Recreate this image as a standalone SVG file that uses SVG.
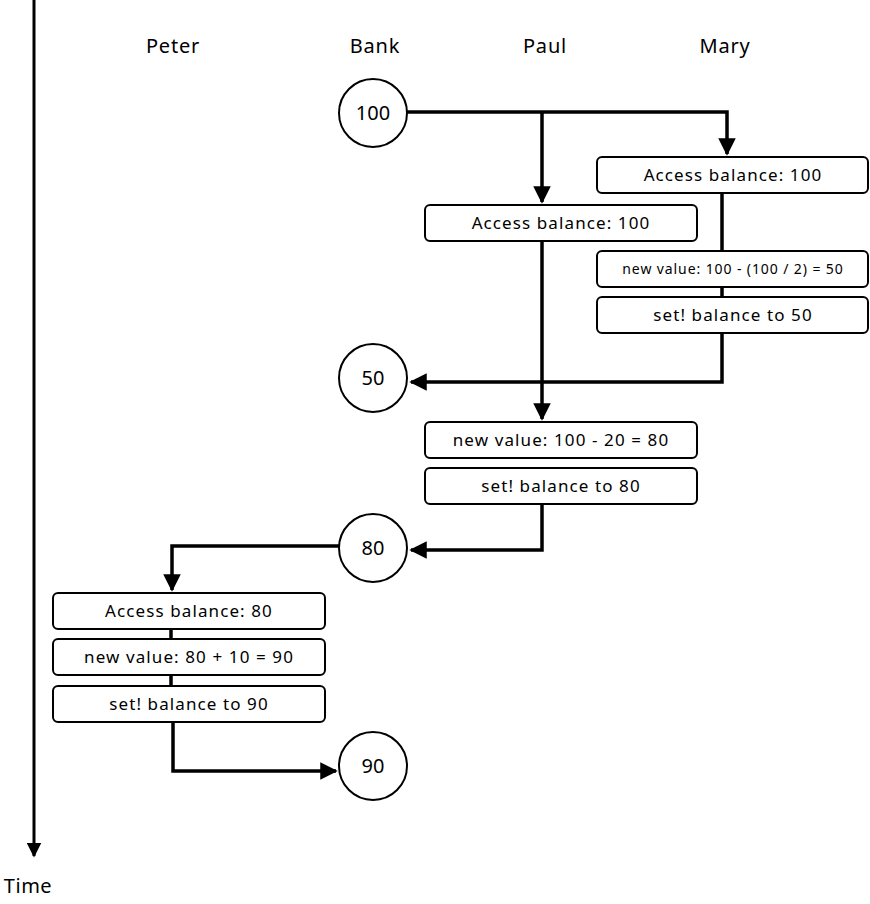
<svg xmlns="http://www.w3.org/2000/svg" width="870" height="904" viewBox="0 0 870 904">
<style>
text{font-family:"Noto Sans","Liberation Sans",sans-serif;fill:#000;text-anchor:middle}
.hdr{font-size:20px;letter-spacing:0.8px}
.box rect{fill:#fff;stroke:#000;stroke-width:2}
.box text{font-size:17px;letter-spacing:1.1px}
.box text.small{font-size:14px;letter-spacing:0.9px}
.val circle{fill:#fff;stroke:#000;stroke-width:2}
.val text{font-size:20px}
.conn{fill:none;stroke:#000;stroke-width:3.5;stroke-linejoin:miter}
.thin{fill:none;stroke:#000;stroke-width:3}
</style>
<defs>
<marker id="ah" viewBox="0 0 10 10" refX="9" refY="5" markerWidth="5" markerHeight="5" markerUnits="strokeWidth" orient="auto">
<path d="M0,0 L10,5 L0,10 z" fill="#000"/>
</marker>
</defs>
<rect width="870" height="904" fill="#fff"/>
<g id="timeline">
<line x1="34" y1="0" x2="34" y2="856" class="thin" marker-end="url(#ah)"/>
<text x="28" y="893" style="font-size:20px;letter-spacing:0.5px">Time</text>
</g>
<g id="headers">
<text x="173" y="53" class="hdr">Peter</text>
<text x="375" y="53" class="hdr">Bank</text>
<text x="545" y="53" class="hdr">Paul</text>
<text x="725" y="53" class="hdr">Mary</text>
</g>
<g id="connectors">
<path class="conn" d="M407,112 H727 V154" marker-end="url(#ah)"/>
<path class="conn" d="M542,112 V202" marker-end="url(#ah)"/>
<path class="conn" d="M722,193 V382 H411" marker-end="url(#ah)"/>
<path class="conn" d="M542,241 V419" marker-end="url(#ah)"/>
<path class="conn" d="M542,504 V550 H411" marker-end="url(#ah)"/>
<path class="conn" d="M340,546 H172 V590" marker-end="url(#ah)"/>
<path class="conn" d="M171,629 V686"/>
<path class="conn" d="M173,722 V771 H336" marker-end="url(#ah)"/>
</g>
<g id="bank100" class="val"><circle cx="373" cy="113" r="34"/><text x="373" y="120">100</text></g>
<g id="bank50" class="val"><circle cx="373" cy="378" r="34"/><text x="373" y="385">50</text></g>
<g id="bank80" class="val"><circle cx="373" cy="548" r="34"/><text x="373" y="555">80</text></g>
<g id="bank90" class="val"><circle cx="373" cy="766" r="34"/><text x="373" y="773">90</text></g>
<g id="maryAccess" class="box"><rect x="597" y="157" width="271" height="36" rx="5"/><text x="733" y="181">Access balance: 100</text></g>
<g id="maryNew" class="box"><rect x="597" y="251" width="271" height="36" rx="5"/><text x="733" y="274" class="small">new value: 100 - (100 / 2) = 50</text></g>
<g id="marySet" class="box"><rect x="597" y="297" width="271" height="36" rx="5"/><text x="733" y="321">set! balance to 50</text></g>
<g id="paulAccess" class="box"><rect x="425" y="205" width="272" height="36" rx="5"/><text x="561" y="229">Access balance: 100</text></g>
<g id="paulNew" class="box"><rect x="425" y="422" width="272" height="36" rx="5"/><text x="561" y="446">new value: 100 - 20 = 80</text></g>
<g id="paulSet" class="box"><rect x="425" y="468" width="272" height="36" rx="5"/><text x="561" y="492">set! balance to 80</text></g>
<g id="peterAccess" class="box"><rect x="53" y="593" width="272" height="36" rx="5"/><text x="189" y="617">Access balance: 80</text></g>
<g id="peterNew" class="box"><rect x="53" y="639" width="272" height="36" rx="5"/><text x="189" y="663">new value: 80 + 10 = 90</text></g>
<g id="peterSet" class="box"><rect x="53" y="686" width="272" height="36" rx="5"/><text x="189" y="710">set! balance to 90</text></g>
</svg>
